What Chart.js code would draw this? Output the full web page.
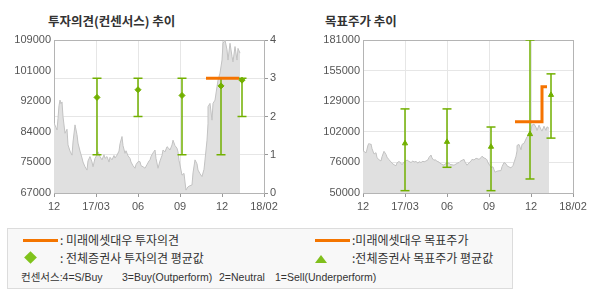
<!DOCTYPE html>
<html><head><meta charset="utf-8">
<script src="https://cdn.jsdelivr.net/npm/chart.js@4/dist/chart.umd.min.js"></script>
<style>
body{margin:0;background:#fff;width:590px;height:300px;position:relative;overflow:hidden;font-family:"Noto Sans CJK KR",sans-serif;}
.t{position:absolute;top:12px;font-size:12.5px;line-height:18px;font-weight:bold;color:#333;white-space:nowrap;}
canvas{position:absolute;top:0;}
#c1{left:0;}
#c2{left:300px;}
.lg{position:absolute;left:7px;top:228px;width:504px;height:59px;background:#f8f8f8;border:1px solid #dcdcdc;}
.tx{position:absolute;font-size:12px;line-height:14px;color:#333;white-space:nowrap;}
.tl{position:absolute;font-family:"Liberation Sans","Noto Sans CJK KR",sans-serif;font-size:10.5px;line-height:14px;color:#333;white-space:nowrap;top:270px;}
.ln{position:absolute;height:3px;width:35px;background:#f47500;}
.dm{position:absolute;width:9px;height:9px;background:#80c31c;transform:rotate(45deg);}
.tri{position:absolute;width:0;height:0;border-left:6.5px solid transparent;border-right:6.5px solid transparent;border-bottom:8px solid #80bf1c;}
</style></head><body>
<div class="t" style="left:48px">투자의견(컨센서스) 추이</div>
<div class="t" style="left:325px">목표주가 추이</div>
<canvas id="c1" width="300" height="222" style="width:300px;height:222px"></canvas>
<canvas id="c2" width="300" height="222" style="width:300px;height:222px"></canvas>
<div class="lg"></div>
<div class="ln" style="left:23px;top:239px"></div>
<div class="tx" style="left:60px;top:233px">: 미래에셋대우 투자의견</div>
<div class="ln" style="left:315px;top:239px"></div>
<div class="tx" style="left:352px;top:233px">:미래에셋대우 목표주가</div>
<div class="dm" style="left:26px;top:253px"></div>
<div class="tx" style="left:60px;top:251px">: 전체증권사 투자의견 평균값</div>
<div class="tri" style="left:315px;top:255px"></div>
<div class="tx" style="left:352px;top:251px">:전체증권사 목표주가 평균값</div>
<div class="tl" style="left:21px">컨센서스:4=S/Buy</div>
<div class="tl" style="left:122px">3=Buy(Outperform)</div>
<div class="tl" style="left:219px">2=Neutral</div>
<div class="tl" style="left:275px">1=Sell(Underperform)</div>
<script>
// x-axis category labels (equally spaced periods)
const xLabels = ['12','17/03','06','09','12','18/02'];
// left chart (opinion) tick labels
const priceTicksL = [67000, 75000, 84000, 92000, 101000, 109000];
const opinionTicks = [0, 1, 2, 3, 4];
// right chart (target price) tick labels
const priceTicksR = [50000, 76000, 102000, 129000, 155000, 181000];

// share price (period position, value)
const priceT = [0.00,0.036,0.064,0.095,0.119,0.143,0.167,0.190,0.221,0.262,0.298,0.340,0.381,0.421,0.452,0.500,0.536,0.579,0.619,0.660,0.702,0.738,0.779,0.821,0.857,0.893,0.936,0.976,1.012,1.055,1.095,1.136,1.179,1.214,1.255,1.298,1.333,1.374,1.417,1.452,1.493,1.536,1.571,1.612,1.643,1.690,1.726,1.762,1.810,1.845,1.881,1.929,1.964,2.000,2.048,2.083,2.119,2.167,2.214,2.250,2.286,2.321,2.357,2.405,2.440,2.483,2.524,2.560,2.602,2.643,2.683,2.726,2.762,2.798,2.840,2.881,2.921,2.960,2.988,3.017,3.055,3.095,3.119,3.136,3.167,3.198,3.238,3.279,3.310,3.357,3.393,3.436,3.476,3.517,3.560,3.595,3.636,3.655,3.674,3.714,3.755,3.793,3.833,3.874,3.912,3.952,3.993,4.031,4.071,4.112,4.150,4.190,4.231,4.269,4.310,4.350,4.388,4.417];
const priceV = [86200,85000,84300,87500,91000,92500,91500,92000,88000,83400,84500,80200,78500,77400,81000,85700,83000,80700,78500,76600,75500,74200,73300,75800,77000,75500,74200,76500,77500,78300,77000,76100,77500,76500,77000,75500,76800,76100,77300,76600,77400,78500,80500,82500,80000,77900,78600,77200,76500,75500,74500,73800,74800,75600,75600,74500,74200,73800,74800,75800,76100,77000,78000,78800,76500,73800,75800,77300,78800,78300,79700,79500,78800,80200,81500,80000,79300,78300,76000,73300,71900,72400,70000,67800,68300,68700,69000,69200,72500,76100,75000,73300,72300,71500,73500,76100,81500,86000,90700,91600,87000,91600,92500,96200,98000,99900,103500,108100,109000,106300,103500,108100,104500,103000,107200,103500,106700,105400];

// opinion: Mirae Asset Daewoo
const opT = [3.62, 4.40];
const opV = [3, 3];
// opinion consensus (all brokers)
const opConsT = [1.02, 2.00, 3.05, 3.98, 4.48];
const opConsLow = [1, 2, 1, 1, 2];
const opConsHigh = [3, 3, 3, 3, 3];
const opConsMean = [2.5, 2.7, 2.55, 2.8, 2.95];

// target price: Mirae Asset Daewoo (stepped)
const tpT = [3.62, 4.26, 4.26, 4.37];
const tpV = [111000, 111000, 141000, 141000];
// target price consensus
const tpConsT = [1.00, 2.01, 3.05, 3.98, 4.48];
const tpConsLow = [52000, 72000, 52000, 62000, 97000];
const tpConsHigh = [122000, 122000, 106500, 181000, 152000];
const tpConsMean = [92500, 93800, 89600, 100400, 134000];

const ORANGE = '#f57300', GREEN = '#72b000', AXIS = '#b4b4b4', GRID = '#e6e6e6', LBL = '#555';
Chart.defaults.font.family = '"Liberation Sans", Arial, sans-serif';
Chart.defaults.font.size = 11;

const pts = (xs, ys) => xs.map((x, i) => ({x, y: ys[i]}));
function bars(xs, lo, hi) {
  const d = [];
  xs.forEach((x, i) => { d.push({x, y: lo[i]}, {x, y: hi[i]}, {x, y: null}); });
  return d;
}
function xScale(lastDark) {
  return {
    type: 'linear', min: 0, max: 5, alignToPixels: true,
    afterBuildTicks: s => { s.ticks = xLabels.map((_, i) => ({value: i})); },
    ticks: {callback: (v, i) => xLabels[i], color: LBL, padding: 3, maxRotation: 0, autoSkip: false},
    grid: {color: c => (lastDark && c.index === 5) ? AXIS : GRID, tickColor: '#999', tickLength: 4},
    border: {color: AXIS},
    afterFit: s => { s.height = 29; }
  };
}
function evenTicks(labels, min, max) {
  return s => { s.ticks = labels.map((_, i) => ({value: min + i * (max - min) / (labels.length - 1)})); };
}

new Chart(document.getElementById('c1'), {
  type: 'line',
  data: {datasets: [
    {data: pts(opT, opV), yAxisID: 'y1', borderColor: ORANGE, borderWidth: 3, pointRadius: 0, order: 1},
    {data: pts(opConsT, opConsMean), yAxisID: 'y1', showLine: false, pointStyle: 'rectRot', pointRadius: 3, backgroundColor: GREEN, borderColor: GREEN, borderWidth: 1, order: 2},
    {data: bars(opConsT, opConsLow, opConsHigh), yAxisID: 'y1', spanGaps: false, borderColor: GREEN, borderWidth: 1.5, pointStyle: 'line', pointRadius: 4.5, pointBorderColor: GREEN, pointBorderWidth: 1.5, order: 3},
    {data: pts(priceT, priceV), yAxisID: 'y', fill: 'start', backgroundColor: '#e0e0e0', borderColor: '#c2c2c2', borderWidth: 1, pointRadius: 0, tension: 0, order: 10}
  ]},
  options: {
    responsive: false, animation: false, events: [],
    layout: {padding: {top: 40, left: 0, right: 0, bottom: 0}},
    plugins: {legend: {display: false}, tooltip: {enabled: false}},
    scales: {
      x: xScale(false),
      y: {position: 'left', min: priceTicksL[0], max: priceTicksL[priceTicksL.length - 1],
        afterBuildTicks: evenTicks(priceTicksL, priceTicksL[0], priceTicksL[priceTicksL.length - 1]),
        ticks: {callback: (v, i) => priceTicksL[i], color: LBL, padding: 3},
        grid: {display: false, drawTicks: false}, border: {display: true, color: AXIS},
        afterFit: s => { s.width = 54; }},
      y1: {position: 'right', min: 0, max: 4,
        afterBuildTicks: s => { s.ticks = opinionTicks.map(v => ({value: v})); },
        ticks: {callback: (v, i) => opinionTicks[i], color: LBL, padding: 2},
        grid: {color: c => c.tick && c.tick.value === 4 ? AXIS : GRID, tickColor: '#999', tickLength: 4},
        border: {color: AXIS},
        afterFit: s => { s.width = 36; }}
    }
  }
});

new Chart(document.getElementById('c2'), {
  type: 'line',
  data: {datasets: [
    {data: pts(tpT, tpV), borderColor: ORANGE, borderWidth: 3, pointRadius: 0, order: 1},
    {data: pts(tpConsT, tpConsMean), showLine: false, pointStyle: 'triangle', pointRadius: 3, backgroundColor: GREEN, borderColor: GREEN, borderWidth: 1, order: 2},
    {data: bars(tpConsT, tpConsLow, tpConsHigh), spanGaps: false, borderColor: GREEN, borderWidth: 1.5, pointStyle: 'line', pointRadius: 4.5, pointBorderColor: GREEN, pointBorderWidth: 1.5, order: 3},
    {data: pts(priceT, priceV), fill: 'start', backgroundColor: '#e0e0e0', borderColor: '#c2c2c2', borderWidth: 1, pointRadius: 0, tension: 0, order: 10}
  ]},
  options: {
    responsive: false, animation: false, events: [],
    layout: {padding: {top: 40, left: 0, right: 27, bottom: 0}},
    plugins: {legend: {display: false}, tooltip: {enabled: false}},
    scales: {
      x: xScale(true),
      y: {position: 'left', min: priceTicksR[0], max: priceTicksR[priceTicksR.length - 1],
        afterBuildTicks: evenTicks(priceTicksR, priceTicksR[0], priceTicksR[priceTicksR.length - 1]),
        ticks: {callback: (v, i) => priceTicksR[i], color: LBL, padding: 3},
        grid: {color: c => c.index === 5 ? AXIS : GRID, drawTicks: false}, border: {color: AXIS},
        afterFit: s => { s.width = 63; }}
    }
  }
});
</script>
</body></html>
